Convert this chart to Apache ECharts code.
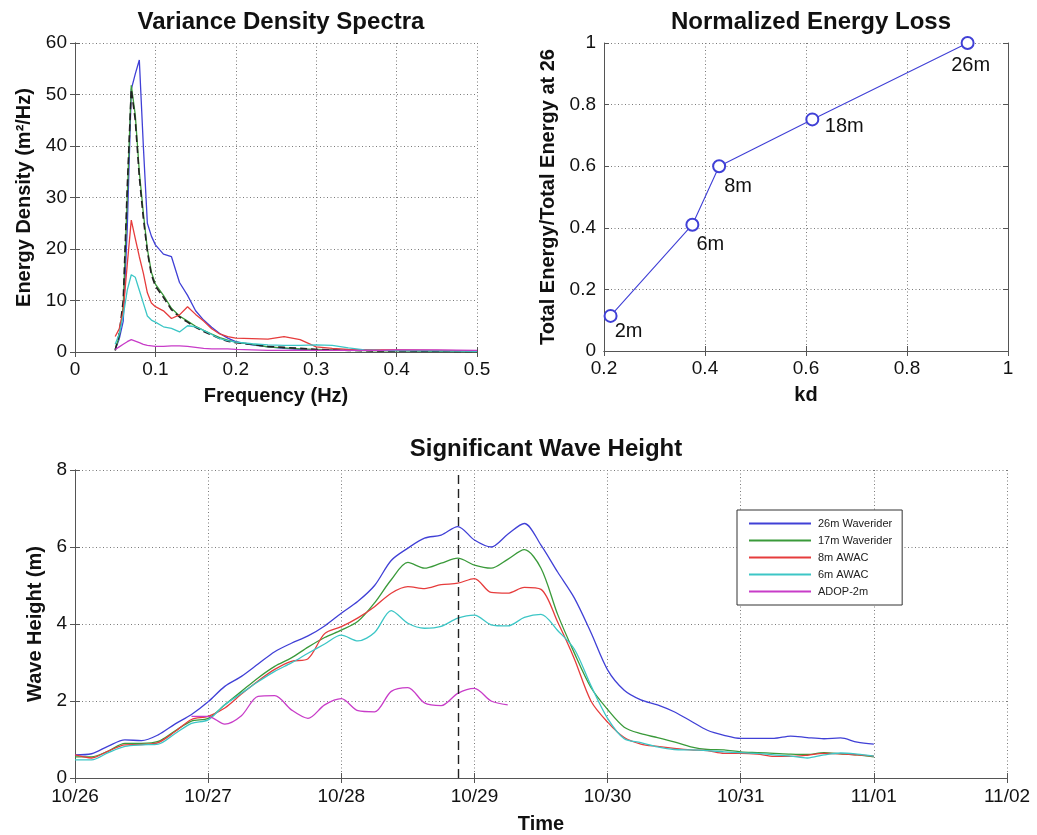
<!DOCTYPE html>
<html>
<head>
<meta charset="utf-8">
<script src="https://cdn.jsdelivr.net/npm/echarts@6/dist/echarts.min.js"></script>
<style>
  html, body { margin: 0; padding: 0; background: #fff; }
  #chart { width: 1037px; height: 835px; }
</style>
</head>
<body>
<div id="chart"></div>
<script>
// ---------- Variance density spectra ----------
const spectraFreq = [0.05,0.055,0.06,0.065,0.07,0.075,0.08,0.085,0.09,0.095,0.1,0.11,0.12,0.13,0.14,0.15,0.16,0.17,0.18,0.19,0.2,0.22,0.24,0.26,0.28,0.3,0.32,0.34,0.36,0.38,0.4,0.45,0.5];
const spec26m  = [0.5,2.5,6,24,51,54,56.7,40,25,22.5,20.8,19,18.5,13.5,11,8,6.2,4.8,3.6,2.7,2.0,1.4,1.0,0.7,0.5,0.45,0.4,0.35,0.3,0.3,0.3,0.25,0.2];
const spec17m  = [0.5,3,9,30,51.8,46,35,27,20,15.5,13.2,11,8.5,7,6,5,4.2,3.5,2.8,2.3,1.9,1.5,1.0,0.8,0.6,0.5,0.4,0.3,0.25,0.2,0.2,0.15,0.1];
const specRef  = [0.3,3.5,10,32,51,45,34,26,19.5,15,12.8,10.6,8.2,6.8,5.8,4.8,4.0,3.3,2.6,2.1,1.8,1.5,1.1,0.9,0.7,0.5,0.4,0.3,0.25,0.2,0.2,0.15,0.1];
const spec8m   = [3.0,4.5,8,17,25.6,22,18.5,15.3,11.5,9.5,8.8,8.0,6.5,7.2,8.8,7.3,6.0,4.5,3.5,3.0,2.7,2.6,2.5,3.0,2.4,1.0,0.7,0.5,0.45,0.4,0.4,0.3,0.2];
const spec6m   = [1.5,3.5,7,12,15,14.5,12,9.5,7,6.2,5.8,4.9,4.6,3.9,5.1,4.9,4.2,3.4,2.6,2.2,1.9,1.6,1.4,1.3,1.3,1.4,1.3,0.8,0.4,0.3,0.25,0.2,0.15];
const spec2m   = [0.5,1.0,1.5,2.0,2.4,2.1,1.8,1.5,1.3,1.2,1.1,1.1,1.2,1.2,1.1,0.9,0.7,0.6,0.6,0.6,0.5,0.4,0.3,0.3,0.3,0.3,0.3,0.3,0.3,0.3,0.4,0.4,0.3];

// ---------- Normalized energy loss ----------
const kdValues    = [0.213, 0.375, 0.428, 0.6125, 0.92];
const energyRatio = [0.114, 0.41, 0.60, 0.752, 1.0];
const depthLabels = ['2m', '6m', '8m', '18m', '26m'];

// ---------- Significant wave height (days since 10/26 00:00) ----------
const dayLabels = ['10/26','10/27','10/28','10/29','10/30','10/31','11/01','11/02'];
const timeDays = [0,0.125,0.25,0.375,0.5,0.625,0.75,0.875,1,1.125,1.25,1.375,1.5,1.625,1.75,1.875,2,2.125,2.25,2.375,2.5,2.625,2.75,2.875,3,3.125,3.25,3.375,3.5,3.625,3.75,3.875,4,4.125,4.25,4.375,4.5,4.625,4.75,4.875,5,5.125,5.25,5.375,5.5,5.625,5.75,5.875,6];
const hs26m = [0.60,0.63,0.83,0.99,0.97,1.12,1.40,1.65,1.98,2.38,2.64,2.96,3.28,3.50,3.69,3.95,4.28,4.59,5.00,5.65,5.97,6.23,6.31,6.53,6.18,6.00,6.33,6.61,6.05,5.35,4.68,3.78,2.81,2.28,2.03,1.90,1.72,1.48,1.24,1.11,1.03,1.03,1.03,1.09,1.05,1.02,1.04,0.93,0.88];
const hs17m = [0.55,0.55,0.70,0.90,0.90,0.95,1.22,1.48,1.55,1.90,2.25,2.60,2.90,3.12,3.40,3.65,3.84,4.07,4.55,5.15,5.60,5.45,5.58,5.71,5.53,5.45,5.68,5.93,5.45,4.25,3.25,2.35,1.78,1.32,1.15,1.05,0.94,0.81,0.74,0.73,0.68,0.66,0.64,0.62,0.61,0.66,0.63,0.60,0.55];
const hs8m  = [0.60,0.52,0.70,0.86,0.87,0.92,1.20,1.52,1.60,1.82,2.18,2.52,2.82,3.03,3.10,3.75,3.93,4.16,4.45,4.80,4.97,4.92,5.02,5.06,5.18,4.82,4.80,4.95,4.90,4.05,3.10,2.00,1.45,1.05,0.88,0.82,0.77,0.73,0.71,0.64,0.64,0.62,0.56,0.56,0.59,0.64,0.63,0.60,0.57];
const hs6m  = [0.47,0.47,0.66,0.82,0.86,0.88,1.15,1.42,1.51,1.90,2.20,2.50,2.77,2.99,3.24,3.48,3.71,3.56,3.78,4.35,4.02,3.89,3.94,4.15,4.23,3.98,3.95,4.17,4.25,3.83,3.35,2.40,1.55,1.02,0.92,0.81,0.74,0.73,0.71,0.68,0.66,0.64,0.60,0.57,0.52,0.60,0.65,0.62,0.57];
const adopDays = [0.875,1,1.125,1.25,1.375,1.5,1.625,1.75,1.875,2,2.125,2.25,2.375,2.5,2.625,2.75,2.875,3,3.125,3.25];
const hsAdop   = [1.60,1.60,1.40,1.62,2.12,2.14,1.77,1.55,1.90,2.06,1.75,1.72,2.25,2.35,1.95,1.88,2.20,2.33,2.00,1.90];
const stormMarkDay = 2.875;
const seriesNames = ['26m Waverider', '17m Waverider', '8m AWAC', '6m AWAC', 'ADOP-2m'];

// ---------- styles ----------
const FONT = 'Liberation Sans, Arial, Helvetica, sans-serif';
const C = { blue: '#4040d6', green: '#3a9a3a', red: '#e63c3c', cyan: '#3cc6c6', mag: '#c83cc8', black: '#222' };
const boxLine = { show: true, lineStyle: { color: '#555', width: 1 } };
const tickIn = { show: true, inside: true, length: 5, lineStyle: { color: '#555', width: 1 } };
const dotted = { show: true, lineStyle: { type: [1, 2.5], color: '#7a7a7a', width: 1 } };
const tickLbl = { show: true, fontFamily: FONT, fontSize: 19, color: '#111', margin: 8 };
const nameStyle = { fontFamily: FONT, fontSize: 20, fontWeight: 'bold', color: '#111' };
const titleStyle = { fontFamily: FONT, fontSize: 24, fontWeight: 'bold', color: '#111' };

function zip(xs, ys) { return xs.map((x, i) => [x, ys[i]]); }

function mainX(grid, min, max, interval, name, gap, extra) {
  return Object.assign({
    type: 'value', gridIndex: grid, position: 'bottom', min, max, interval,
    axisLine: boxLine, axisTick: tickIn, splitLine: dotted, axisLabel: tickLbl,
    name, nameLocation: 'middle', nameGap: gap, nameTextStyle: nameStyle
  }, extra || {});
}
function sideX(grid, min, max, interval) {
  return { type: 'value', gridIndex: grid, position: 'top', min, max, interval,
    axisLine: boxLine, axisTick: tickIn, splitLine: { show: false }, axisLabel: { show: false } };
}
function mainY(grid, min, max, interval, name, gap) {
  return { type: 'value', gridIndex: grid, position: 'left', min, max, interval,
    axisLine: boxLine, axisTick: tickIn, splitLine: dotted, axisLabel: tickLbl,
    name, nameLocation: 'middle', nameGap: gap, nameTextStyle: nameStyle };
}
function sideY(grid, min, max, interval) {
  return { type: 'value', gridIndex: grid, position: 'right', min, max, interval,
    axisLine: boxLine, axisTick: tickIn, splitLine: { show: false }, axisLabel: { show: false } };
}
function specLine(name, data, color, dashed) {
  return { name, type: 'line', xAxisIndex: 0, yAxisIndex: 0, data: zip(spectraFreq, data),
    symbol: 'none', lineStyle: { color, width: dashed ? 1.6 : 1.3, type: dashed ? [7, 4] : 'solid' },
    itemStyle: { color }, silent: true };
}
function hsLine(name, xs, data, color, extra) {
  return Object.assign({ name, type: 'line', xAxisIndex: 4, yAxisIndex: 4, data: zip(xs, data),
    symbol: 'none', smooth: 0.3, lineStyle: { color, width: 1.3 }, itemStyle: { color } }, extra || {});
}

const labelOffsets = [[18, 16], [18, 20], [19, 20], [32, 7], [3, 22]];

const option = {
  animation: false,
  backgroundColor: '#fff',
  textStyle: { fontFamily: FONT },
  title: [
    { text: 'Variance Density Spectra', left: 276, top: 5, textAlign: 'center', textStyle: titleStyle },
    { text: 'Normalized Energy Loss', left: 806, top: 5, textAlign: 'center', textStyle: titleStyle },
    { text: 'Significant Wave Height', left: 541, top: 432, textAlign: 'center', textStyle: titleStyle }
  ],
  grid: [
    { left: 75, top: 43, width: 402, height: 309 },
    { left: 604, top: 43, width: 404, height: 308 },
    { left: 75, top: 470, width: 932, height: 308 }
  ],
  xAxis: [
    mainX(0, 0, 0.5, 0.1, 'Frequency (Hz)', 34),
    sideX(0, 0, 0.5, 0.1),
    mainX(1, 0.2, 1, 0.2, 'kd', 34),
    sideX(1, 0.2, 1, 0.2),
    mainX(2, 0, 7, 1, 'Time', 36, { axisLabel: Object.assign({}, tickLbl, { margin: 9, formatter: v => dayLabels[Math.round(v)] }) }),
    sideX(2, 0, 7, 1)
  ],
  yAxis: [
    mainY(0, 0, 60, 10, 'Energy Density (m\u00B2/Hz)', 41),
    sideY(0, 0, 60, 10),
    mainY(1, 0, 1, 0.2, 'Total Energy/Total Energy at 26', 46),
    sideY(1, 0, 1, 0.2),
    mainY(2, 0, 8, 2, 'Wave Height (m)', 28),
    sideY(2, 0, 8, 2)
  ],
  legend: {
    data: seriesNames,
    orient: 'vertical', left: 737, top: 510,
    itemWidth: 62, itemHeight: 2, itemGap: 0, icon: 'rect',
    padding: [5, 10, 5, 12],
    borderColor: '#333', borderWidth: 1, backgroundColor: '#fff',
    textStyle: { fontFamily: FONT, fontSize: 11, lineHeight: 17, color: '#222', padding: [0, 0, 0, 2] },
    selectedMode: false
  },
  series: [
    specLine('spec26', spec26m, C.blue),
    specLine('spec17', spec17m, C.green),
    specLine('specRef', specRef, C.black, true),
    specLine('spec8', spec8m, C.red),
    specLine('spec6', spec6m, C.cyan),
    specLine('spec2', spec2m, C.mag),
    {
      name: 'energyLoss', type: 'line', xAxisIndex: 2, yAxisIndex: 2,
      data: kdValues.map((k, i) => ({
        value: [k, energyRatio[i]],
        label: { show: true, position: 'inside', offset: labelOffsets[i], formatter: depthLabels[i] }
      })),
      symbol: 'emptyCircle', symbolSize: 12, showAllSymbol: true,
      lineStyle: { color: C.blue, width: 1.1 },
      itemStyle: { color: C.blue, borderColor: C.blue, borderWidth: 1 },
      label: { fontFamily: FONT, fontSize: 20, color: '#111' },
      silent: true
    },
    hsLine(seriesNames[0], timeDays, hs26m, C.blue, {
      markLine: {
        silent: true, symbol: ['none', 'none'], label: { show: false },
        lineStyle: { color: '#222', type: [9, 5], width: 1.4 },
        data: [{ xAxis: stormMarkDay }]
      }
    }),
    hsLine(seriesNames[1], timeDays, hs17m, C.green),
    hsLine(seriesNames[2], timeDays, hs8m, C.red),
    hsLine(seriesNames[3], timeDays, hs6m, C.cyan),
    hsLine(seriesNames[4], adopDays, hsAdop, C.mag)
  ]
};

const chart = echarts.init(document.getElementById('chart'), null, { renderer: 'canvas' });
chart.setOption(option);
</script>
</body>
</html>
